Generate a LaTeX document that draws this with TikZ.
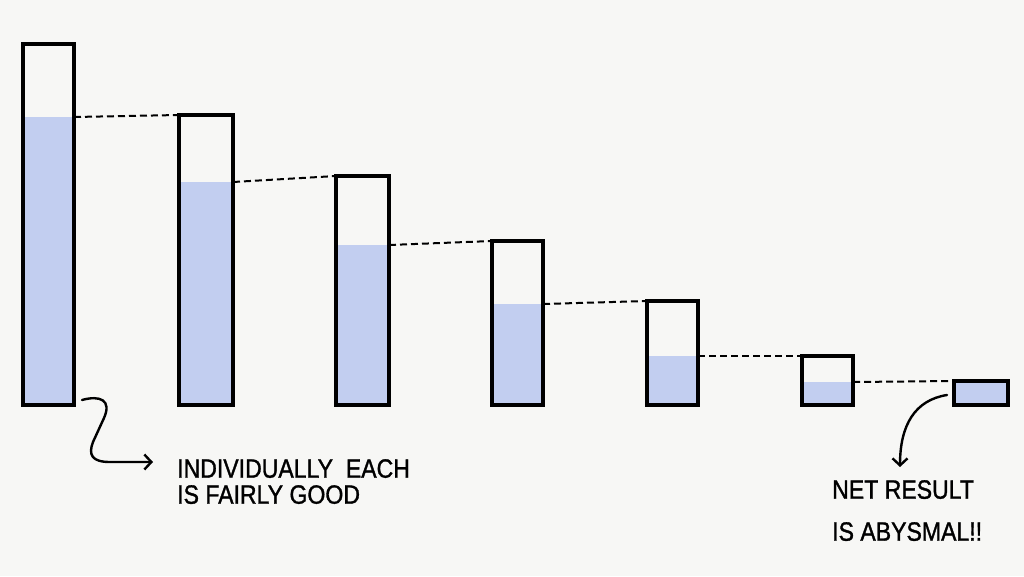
\documentclass[tikz,border=0pt]{standalone}
\usepackage{fontspec}
\newfontfamily\handfont[FakeStretch=0.87,FakeBold=1.2]{Liberation Sans}
\usetikzlibrary{arrows.meta,calc}
\definecolor{PaperWhite}{HTML}{F7F7F5}
\definecolor{WashBlue}{HTML}{C2CEF0}
\tikzset{
    bar/.style = {draw, rectangle, line width=3.6pt, inner sep=0pt,
        outer sep=0pt, anchor=south west},
    level/.style = {fill=WashBlue},
    dashline/.style = {draw, line width=2pt, dash pattern=on 7pt off 4pt},
    pointer/.style = {draw, line width=2.4pt, line cap=round,
        -{Straight Barb[length=7pt,width=15pt,line width=2.4pt]}},
    note/.style = {align=left, anchor=north west, inner sep=0pt,
        font=\handfont\fontsize{26.5}{26}\selectfont}
}

\begin{document}
\begin{tikzpicture}[x=1pt,y=-1pt]
    \fill[PaperWhite] (0,0) rectangle (1024,576);
    \useasboundingbox (0,0) rectangle (1024,576);
    % bars: number/left/right/top/water level
    \foreach \n/\l/\r/\t/\f in {1/23/74/44/117, 2/179/233/115/182,
        3/336/389/176/245, 4/492/543/241/304, 5/647/698/301/356,
        6/802/853/356/382, 7/954/1008/381/381} {
        \fill[level] (\l,\f) rectangle (\r,405);
        \node[bar, minimum width=\r pt-\l pt, minimum height=405pt-\t pt]
            (b\n) at (\l,405) {};
        \coordinate (f\n) at (\r,\f);
    }
    \foreach \i/\j in {1/2,2/3,3/4,4/5,5/6,6/7}
        \draw[dashline] (f\i) -- (b\j.north west);
    % labels
    \node[note] (good) at (177,459) {INDIVIDUALLY\ \ EACH\\IS FAIRLY GOOD};
    \node[note] (bad) at (832,480) {NET RESULT\\[16pt]IS ABYSMAL!!};
    \coordinate (tail1) at (82,400);
    \coordinate (tip1) at (153,462);
    \draw[pointer] (tail1) .. controls (100,395) and (112,400) .. (104,418)
        -- (93,442) .. controls (88,455) and (92,462) .. (110,462) -- (tip1);
    \coordinate (tail2) at (947,395);
    \coordinate (tip2) at (900,467);
    \draw[pointer] (tail2) .. controls (915,400) and (900,425) .. (tip2);
\end{tikzpicture}
\end{document}
